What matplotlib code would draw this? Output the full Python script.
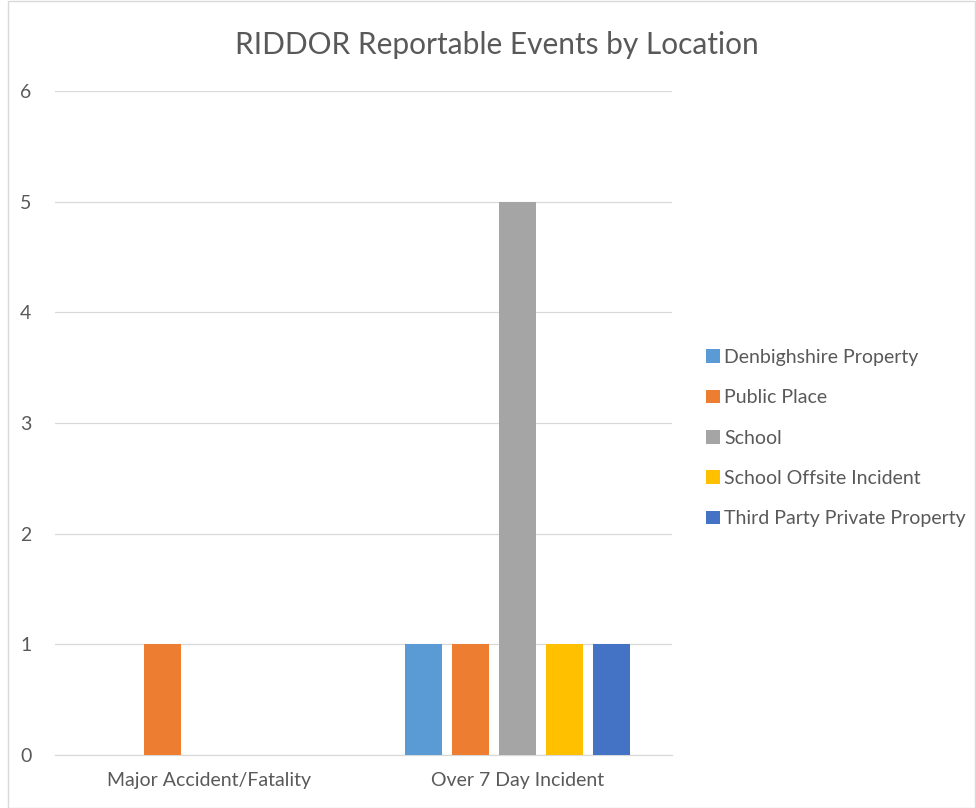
import matplotlib
matplotlib.use("Agg")
import matplotlib.pyplot as plt
from matplotlib.patches import Rectangle

categories = ["Major Accident/Fatality", "Over 7 Day Incident"]
series_names = ["Denbighshire Property", "Public Place", "School",
                "School Offsite Incident", "Third Party Private Property"]
denbighshire = [0, 1]
public_place = [1, 1]
school = [0, 5]
school_offsite = [0, 1]
third_party = [0, 1]
series_values = [denbighshire, public_place, school, school_offsite, third_party]
colors = ["#5B9BD5", "#ED7D31", "#A5A5A5", "#FFC000", "#4472C4"]
yticks = [0, 1, 2, 3, 4, 5, 6]

plt.rcParams['font.family'] = ['Lato', 'DejaVu Sans']
fig = plt.figure(figsize=(9.76, 8.08), dpi=100)
ax = fig.add_axes([55/976, 1 - 755/808, (672-55)/976, (755-91)/808])

step = 0.152
width = 0.12
for i, (name, vals, c) in enumerate(zip(series_names, series_values, colors)):
    xs = [j + (i - 2) * step for j in range(len(categories))]
    ax.bar(xs, vals, width=width, color=c, label=name, zorder=3)

ax.set_xlim(-0.5, 1.5)
ax.set_ylim(0, 6)
ax.set_yticks(yticks)
ax.set_xticks(range(len(categories)))
ax.set_xticklabels(categories)
ax.grid(axis='y', color='#D9D9D9', linewidth=0.9, zorder=0)
for s in ['top', 'right', 'left']:
    ax.spines[s].set_visible(False)
ax.spines['bottom'].set_color('#D9D9D9')
ax.spines['bottom'].set_linewidth(0.9)
ax.tick_params(axis='both', length=0, colors='#595959', labelsize=14)
ax.tick_params(axis='y', pad=17)
ax.tick_params(axis='x', pad=12)

fig.text(497/976, 1 - 45/808, "RIDDOR Reportable Events by Location",
         ha='center', va='center', fontsize=21.5, color='#595959')

leg = ax.legend(loc='center left', bbox_to_anchor=(706/976, 1 - 438/808),
                bbox_transform=fig.transFigure, frameon=False, borderpad=0,
                borderaxespad=0,
                handlelength=0.7, handleheight=0.7, handletextpad=0.25,
                labelspacing=1.2, fontsize=14)
for t in leg.get_texts():
    t.set_color('#595959')

fig.patches.append(Rectangle((8/976, 0.5/808), (975-8)/976, 806.5/808,
                             transform=fig.transFigure, fill=False,
                             edgecolor='#D9D9D9', linewidth=1))

fig.savefig("out.png", dpi=100)
